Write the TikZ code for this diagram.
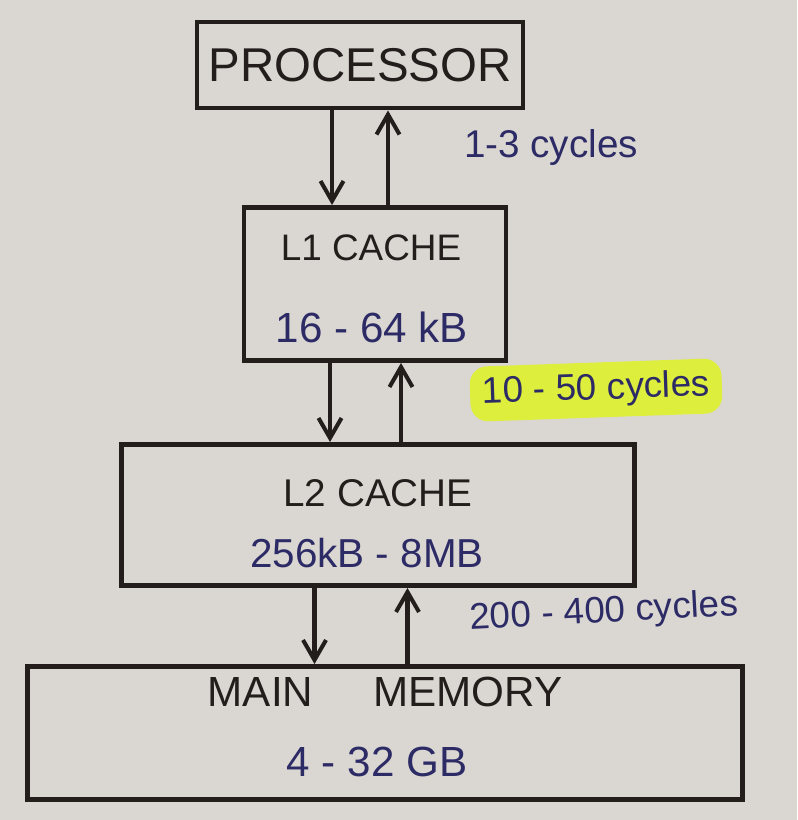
\documentclass[tikz,border=0pt]{standalone}
\usepackage{fontspec}
\setmainfont{Liberation Sans}
\usepackage{xcolor}
\usepackage{tikz}
\usetikzlibrary{arrows.meta,positioning}
\definecolor{PaperGray}{HTML}{DAD7D3}
\definecolor{InkBlack}{HTML}{231E1C}
\definecolor{InkBlue}{HTML}{2D2B66}
\definecolor{MarkerYellow}{HTML}{DDEE3C}
\tikzset{
  levelbox/.style={
    draw=InkBlack,
    line width=2.8pt,
    align=center,
    inner sep=0pt
  },
  levelname/.style={
    text=InkBlack,
    font=\fontsize{22}{26}\selectfont
  },
  levelsize/.style={
    text=InkBlue,
    font=\fontsize{24}{28}\selectfont
  },
  flow/.style={-{Straight Barb[length=0.4cm,width=0.46cm]}, line width=2.3pt, draw=InkBlack}
}
\begin{document}
\begin{tikzpicture}[
  x=0.02cm, y=-0.02cm,
  latency/.style={text=InkBlue, font=\fontsize{21}{25}\selectfont, inner sep=2pt}
]
\fill[PaperGray] (0,0) rectangle (797,820);
% memory levels
\node[levelbox, minimum width=6.52cm, minimum height=1.72cm,
  font=\fontsize{27}{31}\selectfont, text=InkBlack] (proc) at (360,65) {PROCESSOR};
\node[levelbox, minimum width=5.24cm, minimum height=3.06cm] (l1) at (375,284) {};
\node[levelbox, minimum width=10.26cm, minimum height=2.82cm] (l2) at (378,515) {};
\node[levelbox, minimum width=14.32cm, minimum height=2.66cm] (mem) at (385,733) {};
% texts inside the boxes
\node[levelname, font=\fontsize{21}{25}\selectfont] (l1name) at (371,248) {L1 CACHE};
\node[levelsize] (l1size) at (372,327) {16 - 64 kB};
\node[levelname] (l2name) at (378,493) {L2 CACHE};
\node[levelsize, font=\fontsize{23}{27}\selectfont] (l2size) at (367,553) {256kB - 8MB};
\node[levelname, font=\fontsize{24}{28}\selectfont] (memname) at (385,692) {MAIN\hspace{1.2cm}MEMORY};
\node[levelsize] (memsize) at (377,762) {4 - 32 GB};
% Processor <-> L1
\draw[flow] ([xshift=-0.56cm]proc.south) -- ([xshift=-0.56cm]proc.south |- l1.north);
\draw[flow] ([xshift=0.56cm]proc.south |- l1.north) -- ([xshift=0.56cm]proc.south);
\node[latency, font=\fontsize{22}{26}\selectfont] (lat1) at (551,148) {1-3 cycles};
% L1 <-> L2
\draw[flow] ([xshift=-0.9cm]l1.south) -- ([xshift=-0.9cm]l1.south |- l2.north);
\draw[flow] ([xshift=0.52cm]l1.south |- l2.north) -- ([xshift=0.52cm]l1.south);
\node[latency, fill=MarkerYellow, rounded corners=10pt, rotate=2,
  minimum width=5.04cm, minimum height=1.1cm] (lat2) at (596,390) {10 - 50 cycles};
% L2 <-> main memory
\draw[flow] ([xshift=-1.27cm]l2.south) -- ([xshift=-1.27cm]l2.south |- mem.north);
\draw[flow] ([xshift=0.59cm]l2.south |- mem.north) -- ([xshift=0.59cm]l2.south);
\node[latency, anchor=west, rotate=3] (lat3) at (466,620) {200 - 400 cycles};
\end{tikzpicture}
\end{document}
